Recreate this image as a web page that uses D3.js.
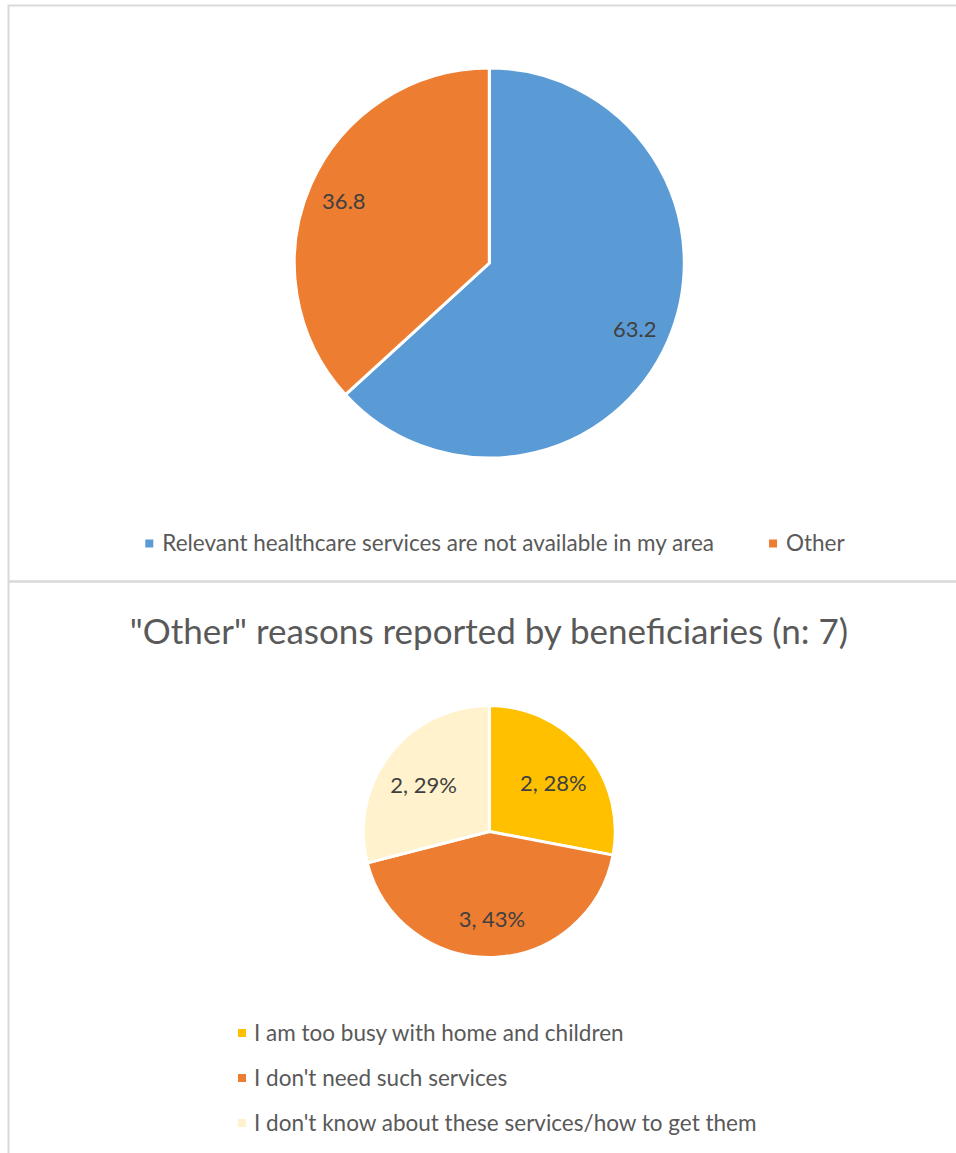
<!DOCTYPE html>
<html>
<head>
<meta charset="utf-8">
<script src="https://cdn.jsdelivr.net/npm/d3@7/dist/d3.min.js"></script>
<style>
  html, body { margin: 0; padding: 0; background: #ffffff; }
  svg { display: block; }
  text { font-family: Lato, "Open Sans", sans-serif; }
</style>
</head>
<body>
<svg id="chart" width="956" height="1153"></svg>
<script>
// Why beneficiaries did not use healthcare services
const mainCategories = ["Relevant healthcare services are not available in my area", "Other"];
const mainValues = [63.2, 36.8];
const mainColors = ["#5B9BD5", "#ED7D31"];

// Breakdown of the "Other" answers
const otherTitle = "\"Other\" reasons reported by beneficiaries (n: 7)";
const otherCategories = [
  "I am too busy with home and children",
  "I don't need such services",
  "I don't know about these services/how to get them"
];
const otherCounts = [2, 3, 2];
const otherPercents = [28, 43, 29];
const otherColors = ["#FFC000", "#ED7D31", "#FFF2CC"];

const W = 956, H = 1153;
const svg = d3.select("#chart");
const frameColor = "#d9d9d9";
const textColor = "#595959";
const labelColor = "#404040";

// chart frames
const frame = svg.append("g").attr("fill", "none").attr("stroke", frameColor).attr("stroke-width", 2);
frame.append("path").attr("d", `M${W + 5},5.5 H8.5 V${H + 5}`);
frame.append("line").attr("x1", 8.5).attr("x2", W + 5).attr("y1", 581.5).attr("y2", 581.5).attr("stroke-width", 2.5);

function drawPie(cfg) {
  const pie = d3.pie().sort(null).value(d => d.value).startAngle(0).endAngle(2 * Math.PI);
  const arcs = pie(cfg.data);
  const arc = d3.arc().innerRadius(0).outerRadius(cfg.r);
  const g = svg.append("g").attr("transform", `translate(${cfg.cx},${cfg.cy})`);
  g.selectAll("path.slice").data(arcs).join("path")
    .attr("class", "slice")
    .attr("d", arc)
    .attr("fill", (d, i) => cfg.colors[i])
    .attr("stroke", "#ffffff")
    .attr("stroke-width", 3)
    .attr("stroke-linejoin", "miter");
  const labelArc = d3.arc().innerRadius(cfg.r * cfg.labelPos).outerRadius(cfg.r * cfg.labelPos);
  g.selectAll("text.lbl").data(arcs).join("text")
    .attr("class", "lbl")
    .attr("transform", d => {
      const [x, y] = labelArc.centroid(d);
      return `translate(${x},${y + cfg.labelShift})`;
    })
    .attr("text-anchor", "middle")
    .attr("dy", "0.35em")
    .attr("fill", labelColor)
    .style("font-size", cfg.labelSize + "px")
    .text(d => cfg.label(d.data));
}

// ---- top pie ----
drawPie({
  data: mainValues.map((v, i) => ({ name: mainCategories[i], value: v })),
  colors: mainColors,
  cx: 489.3, cy: 263, r: 195,
  labelPos: 0.815, labelShift: 2, labelSize: 22,
  label: d => d3.format(".1f")(d.value)
});

// top legend (horizontal, centred)
{
  const g = svg.append("g");
  const items = g.selectAll("g.item").data(mainCategories).join("g").attr("class", "item");
  items.append("rect").attr("width", 8).attr("height", 8).attr("y", -4)
    .attr("fill", (d, i) => mainColors[i]);
  items.append("text").attr("x", 17).attr("dy", "0.35em")
    .attr("fill", textColor).style("font-size", "22.5px").text(d => d);
  let x = 0;
  items.each(function () {
    d3.select(this).attr("transform", `translate(${x},0)`);
    x += 17 + d3.select(this).select("text").node().getComputedTextLength() + 55;
  });
  const total = x - 55;
  g.attr("transform", `translate(${495 - total / 2},543.5)`);
}

// ---- bottom chart ----
svg.append("text")
  .attr("x", 489).attr("y", 644)
  .attr("text-anchor", "middle")
  .attr("fill", textColor)
  .style("font-size", "35px")
  .text(otherTitle);

drawPie({
  data: otherPercents.map((v, i) => ({ name: otherCategories[i], count: otherCounts[i], value: v })),
  colors: otherColors,
  cx: 489.3, cy: 831.5, r: 126,
  labelPos: 0.66, labelShift: 5, labelSize: 22,
  label: d => `${d.count}, ${d.value}%`
});

// bottom legend (vertical, left aligned)
{
  const g = svg.append("g").attr("transform", "translate(238,1033)");
  const items = g.selectAll("g.item").data(otherCategories).join("g")
    .attr("class", "item")
    .attr("transform", (d, i) => `translate(0,${i * 45})`);
  items.append("rect").attr("width", 8).attr("height", 8).attr("y", -4)
    .attr("fill", (d, i) => otherColors[i]);
  items.append("text").attr("x", 16).attr("dy", "0.35em")
    .attr("fill", textColor).style("font-size", "22.5px").text(d => d);
}
</script>
</body>
</html>
